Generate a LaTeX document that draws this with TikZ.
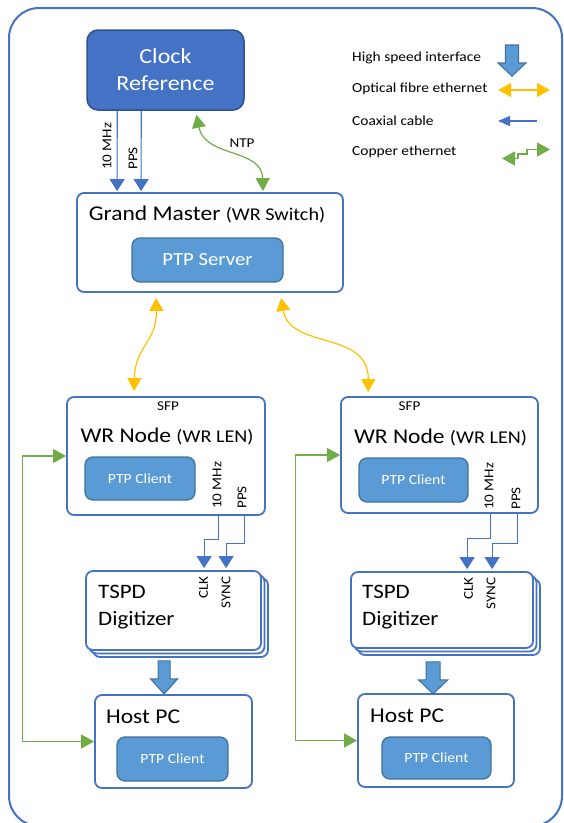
\documentclass[tikz,border=0pt]{standalone}
\usepackage{fontspec}
\setmainfont{Carlito}[FakeStretch=1.12]
\usetikzlibrary{arrows.meta,calc}
\definecolor{cblue}{HTML}{4472C4}
\definecolor{cdark}{HTML}{2F528F}
\definecolor{cfill}{HTML}{5B9BD5}
\definecolor{cinb}{HTML}{41719C}
\definecolor{cyel}{HTML}{FFC000}
\definecolor{cgrn}{HTML}{70AD47}
\begin{document}
\begin{tikzpicture}[x=1pt,y=-1pt,
  frame/.style={draw=cblue,line width=2pt,rounded corners=30pt},
  box/.style={draw=cblue,line width=1.8pt,fill=white,rounded corners=7pt,inner sep=0pt},
  inbox/.style={draw=cinb,line width=1.3pt,fill=cfill,rounded corners=8pt,inner sep=0pt,text=white},
  clockbox/.style={draw=cdark,line width=1.5pt,fill=cblue,rounded corners=11pt,inner sep=0pt,text=white,align=center,font=\fontsize{21.5}{27}\selectfont},
  lbl/.style={inner sep=0pt,font=\fontsize{13.5}{15}\selectfont},
  leg/.style={inner sep=0pt,anchor=base west,font=\fontsize{13.8}{16}\selectfont},
  ttl/.style={inner sep=0pt,anchor=base,font=\fontsize{21}{25}\selectfont},
  big/.style={inner sep=0pt,font=\fontsize{20.5}{27}\selectfont},
  coax/.style={draw=cblue,line width=1.1pt,-{Triangle[width=15pt,length=12pt]}},
  fibre/.style={draw=cyel,line width=1.2pt,{Triangle[width=14pt,length=13pt]}-{Triangle[width=14pt,length=13pt]}},
  copper/.style={draw=cgrn,line width=1.2pt,{Triangle[width=14pt,length=13pt]}-{Triangle[width=14pt,length=13pt]}},
  hs/.style={draw=cinb,line width=1.1pt,fill=cfill,line join=miter}
]
\useasboundingbox (0,0) rectangle (563,823);
\draw[frame] (9,8) rectangle (562,826);

% Clock reference
\node[clockbox,minimum width=157,minimum height=80] (clock) at (165.5,70) {Clock\\Reference};

% Grand master
\node[box,minimum width=266,minimum height=99] (gm) at (210,242.5) {};
\node[ttl] (gmt) at (207,220) {Grand Master \fontsize{18}{22}\selectfont(WR Switch)};
\node[inbox,minimum width=151,minimum height=44,font=\fontsize{18.5}{22}\selectfont] (ptps) at (207.5,260) {PTP Server};

% clock connectors
\draw[coax] ($(clock.south west)+(31,0)$) -- ($(gm.north west)+(41,-1)$);
\draw[coax] ($(clock.south west)+(55,0)$) -- ($(gm.north west)+(65,-1)$);
\node[lbl,rotate=90,anchor=west] (c10) at (107,170) {10 MHz};
\node[lbl,rotate=90,anchor=west] (cpps) at (133,170) {PPS};
\draw[copper] ($(clock.south)+(31,4)$) .. controls (205,158) and (262,148) .. ($(gm.north)+(53,-1)$);
\node[lbl] (ntp) at (242,143) {NTP};

% WR nodes
\node[box,minimum width=198,minimum height=118] (wrL) at (166,456) {};
\node[box,minimum width=197,minimum height=116] (wrR) at (439.5,455) {};
\node[lbl] (sfpL) at (168,406) {SFP};
\node[lbl] (sfpR) at (409.5,406) {SFP};
\node[ttl] (wrLt) at (167,442) {WR Node \fontsize{18}{22}\selectfont(WR LEN)};
\node[ttl] (wrRt) at (440.5,443) {WR Node \fontsize{18}{22}\selectfont(WR LEN)};
\node[inbox,minimum width=110,minimum height=43,font=\fontsize{14}{17}\selectfont] (pcL1) at (140,478.5) {PTP Client};
\node[inbox,minimum width=109,minimum height=44,font=\fontsize{14}{17}\selectfont] (pcR1) at (413.5,480) {PTP Client};
\node[lbl,rotate=90,anchor=west] (w10L) at (217,509) {10 MHz};
\node[lbl,rotate=90,anchor=west] (wppsL) at (242,509) {PPS};
\node[lbl,rotate=90,anchor=west] (w10R) at (489,510) {10 MHz};
\node[lbl,rotate=90,anchor=west] (wppsR) at (516,510) {PPS};

% fibre links
\draw[fibre] ($(gm.south west)+(80,5)$) .. controls (157,342) and (135,346) .. ($(wrL.north west)+(68,-5)$);
\draw[fibre] ($(gm.south west)+(205,5)$) .. controls (290,350) and (369,330) .. ($(wrR.north west)+(28,-4)$);

% TSPD digitizers
\node[box,minimum width=175,minimum height=79] at (180.5,617.5) {};
\node[box,minimum width=175,minimum height=79] at (177,614) {};
\node[box,minimum width=175,minimum height=79] (tspdL) at (173.5,610.5) {};
\node[box,minimum width=182,minimum height=76] at (449,617) {};
\node[box,minimum width=182,minimum height=76] at (445.5,613.5) {};
\node[box,minimum width=182,minimum height=76] (tspdR) at (442,610) {};
\node[big,anchor=north west,align=left] (tspdLt) at (98,585) {TSPD\\Digitizer};
\node[big,anchor=north west,align=left] (tspdRt) at (362,585) {TSPD\\Digitizer};
\node[lbl,rotate=90,anchor=east] (clkL) at (203.5,576) {CLK};
\node[lbl,rotate=90,anchor=east] (syncL) at (226,576) {SYNC};
\node[lbl,rotate=90,anchor=east] (clkR) at (468.5,577) {CLK};
\node[lbl,rotate=90,anchor=east] (syncR) at (491,577) {SYNC};

% coax to digitizers
\draw[coax] ($(wrL.south west)+(152,0)$) -- ++(0,24) -| ($(tspdL.north west)+(119,-2)$);
\draw[coax] ($(wrL.south west)+(178,0)$) -- ++(0,28) -| ($(tspdL.north west)+(141,-2)$);
\draw[coax] ($(wrR.south west)+(150,0)$) -- ++(0,25) -| ($(tspdR.north west)+(117,-2)$);
\draw[coax] ($(wrR.south west)+(177,0)$) -- ++(0,30) -| ($(tspdR.north west)+(142,-2)$);

% Host PCs
\node[box,minimum width=157,minimum height=93] (hostL) at (173.5,741.5) {};
\node[box,minimum width=156,minimum height=93] (hostR) at (436,740.5) {};
\node[big,anchor=base west,font=\fontsize{21}{25}\selectfont] (hostLt) at (106,723) {Host PC};
\node[big,anchor=base west,font=\fontsize{21}{25}\selectfont] (hostRt) at (370,722) {Host PC};
\node[inbox,minimum width=111,minimum height=44,font=\fontsize{14}{17}\selectfont] (pcL2) at (172.5,759) {PTP Client};
\node[inbox,minimum width=109,minimum height=42,font=\fontsize{14}{17}\selectfont] (pcR2) at (436.5,758) {PTP Client};

% high speed arrows
\draw[hs] ($(tspdL.south west)+(73,10)$) -- ++(12,0) -- ++(0,18) -- ++(7.5,0) -- ++(-13.5,15) -- ++(-13.5,-15) -- ++(7.5,0) -- cycle;
\draw[hs] ($(tspdR.south west)+(76,13)$) -- ++(14,0) -- ++(0,18) -- ++(7.5,0) -- ++(-14.5,14) -- ++(-14.5,-14) -- ++(7.5,0) -- cycle;

% copper ethernet L-lines
\draw[copper] (wrL.west) -- ++(-44,0) |- (hostL.west);
\draw[copper] (wrR.west) -- ++(-45,0) |- (hostR.west);

% legend
\node[leg] (l1) at (352,61) {High speed interface};
\node[leg] (l2) at (352,92) {Optical fibre ethernet};
\node[leg] (l3) at (352,125) {Coaxial cable};
\node[leg] (l4) at (352,155) {Copper ethernet};
\draw[hs] (505.5,45) -- ++(13,0) -- ++(0,18) -- ++(7.5,0) -- ++(-14,13) -- ++(-14,-13) -- ++(7.5,0) -- cycle;
\draw[fibre] (498,90) -- (550,90);
\draw[coax,-{Triangle[width=10pt,length=12pt]}] (537,121) -- (498,121);
\draw[copper] (502,158.5) -- (518,158.5) -- (518,154) -- (527,154) -- (527,149.5) -- (550,149.5);
\end{tikzpicture}
\end{document}
